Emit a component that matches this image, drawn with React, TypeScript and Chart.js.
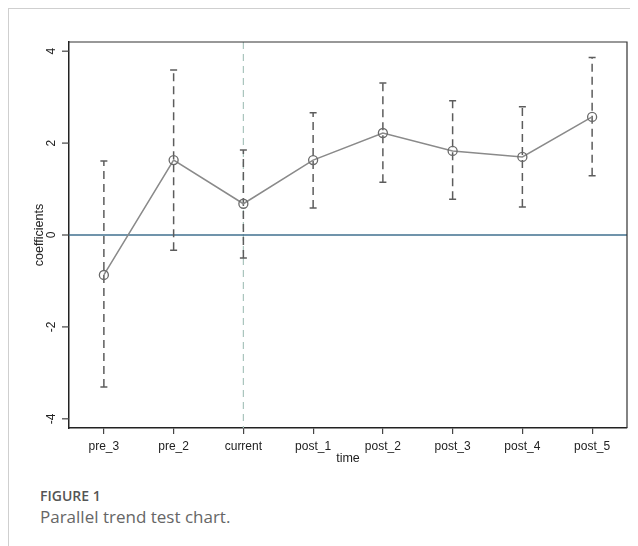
import React, { useEffect, useRef } from 'react';
import { Chart, registerables } from 'chart.js';

Chart.register(...registerables);

const categories = ['pre_3', 'pre_2', 'current', 'post_1', 'post_2', 'post_3', 'post_4', 'post_5'];
const coefficients = [-0.87, 1.63, 0.68, 1.63, 2.22, 1.83, 1.70, 2.57];
const upperCI = [1.61, 3.59, 1.85, 2.66, 3.31, 2.92, 2.79, 3.86];
const lowerCI = [-3.31, -0.33, -0.50, 0.59, 1.15, 0.78, 0.61, 1.29];
const yTickValues = [-4, -2, 0, 2, 4];
const referenceY = 0;
const eventCategory = 'current';
const xTitle = 'time';
const yTitle = 'coefficients';
const figureLabel = 'FIGURE 1';
const figureCaption = 'Parallel trend test chart.';

const FONT = '"Liberation Sans", Arial, Helvetica, sans-serif';

export default function App() {
  const ref = useRef<HTMLCanvasElement>(null);

  useEffect(() => {
    if (!ref.current) return;

    const axesPlugin = {
      id: 'axesPlugin',
      beforeDatasetsDraw(chart: any) {
        const { ctx, chartArea: a, scales } = chart;
        const x = scales.x;
        const y = scales.y;
        ctx.save();
        const xp = x.getPixelForValue(categories.indexOf(eventCategory));
        ctx.strokeStyle = '#a9c4bd';
        ctx.lineWidth = 1.2;
        ctx.setLineDash([7, 5]);
        ctx.beginPath();
        ctx.moveTo(xp, a.top);
        ctx.lineTo(xp, a.bottom);
        ctx.stroke();
        ctx.setLineDash([]);
        const yp = y.getPixelForValue(referenceY);
        ctx.strokeStyle = '#41708f';
        ctx.lineWidth = 1.5;
        ctx.beginPath();
        ctx.moveTo(a.left, yp);
        ctx.lineTo(a.right, yp);
        ctx.stroke();
        ctx.restore();
      },
      afterDraw(chart: any) {
        const { ctx, chartArea: a, scales } = chart;
        const y = scales.y;
        ctx.save();
        // frame top & right
        ctx.strokeStyle = '#333';
        ctx.lineWidth = 1.2;
        ctx.beginPath();
        ctx.moveTo(a.left, a.top);
        ctx.lineTo(a.right, a.top);
        ctx.lineTo(a.right, a.bottom);
        ctx.stroke();
        // y ticks and labels
        ctx.strokeStyle = '#444';
        ctx.lineWidth = 1.2;
        ctx.fillStyle = '#222';
        ctx.font = `12px ${FONT}`;
        ctx.textAlign = 'center';
        ctx.textBaseline = 'middle';
        yTickValues.forEach((v) => {
          const yp = y.getPixelForValue(v);
          ctx.beginPath();
          ctx.moveTo(a.left - 7, yp);
          ctx.lineTo(a.left, yp);
          ctx.stroke();
          ctx.save();
          ctx.translate(a.left - 17.5, yp);
          ctx.rotate(-Math.PI / 2);
          ctx.fillText(String(v), 0, 0);
          ctx.restore();
        });
        // y title
        ctx.font = `12.5px ${FONT}`;
        ctx.save();
        ctx.translate(a.left - 29, (a.top + a.bottom) / 2);
        ctx.rotate(-Math.PI / 2);
        ctx.fillText(yTitle, 0, 0);
        ctx.restore();
        // x title
        ctx.fillText(xTitle, (a.left + a.right) / 2, a.bottom + 31);
        ctx.restore();
      },
    };

    const errorBarSets = categories.map((c, i) => ({
      type: 'line' as const,
      data: [
        { x: c, y: lowerCI[i] },
        { x: c, y: upperCI[i] },
      ],
      borderColor: '#5c5c5c',
      borderWidth: 1.5,
      borderDash: [8, 5],
      pointStyle: 'line' as const,
      pointRadius: 3.5,
      pointBorderColor: '#5c5c5c',
      pointBorderWidth: 1.5,
      fill: false,
      order: 1,
    }));

    const chart = new Chart(ref.current, {
      type: 'line',
      data: {
        labels: categories,
        datasets: [
          {
            data: coefficients,
            borderColor: '#8a8a8a',
            borderWidth: 1.5,
            pointRadius: 4.5,
            pointBorderColor: '#6a6a6a',
            pointBackgroundColor: 'rgba(0,0,0,0)',
            pointBorderWidth: 1.3,
            fill: false,
            tension: 0,
            order: 0,
          },
          ...errorBarSets,
        ],
      } as any,
      options: {
        animation: false,
        responsive: false,
        events: [],
        layout: { padding: { top: 33, right: 11, left: 0, bottom: 0 } },
        plugins: { legend: { display: false }, tooltip: { enabled: false } },
        scales: {
          x: {
            type: 'category',
            offset: true,
            grid: {
              display: true,
              drawOnChartArea: false,
              drawTicks: true,
              tickLength: 6,
              color: '#444',
              lineWidth: 1.2,
              offset: false,
            },
            border: { display: true, color: '#222', width: 1.5 },
            ticks: {
              font: { family: FONT, size: 12 },
              color: '#222',
              padding: 5,
              maxRotation: 0,
              autoSkip: false,
            },
            afterFit: (s: any) => {
              s.height = 51;
            },
          },
          y: {
            type: 'linear',
            min: -4.2,
            max: 4.2,
            grid: { display: false },
            border: { display: true, color: '#222', width: 1.5 },
            ticks: { display: false },
            afterBuildTicks: (s: any) => {
              s.ticks = yTickValues.map((v) => ({ value: v }));
            },
            afterFit: (s: any) => {
              s.width = 60;
            },
          },
        },
      } as any,
      plugins: [axesPlugin],
    });

    return () => chart.destroy();
  }, []);

  return (
    <div
      style={{
        position: 'relative',
        width: 630,
        height: 538,
        borderTop: '1px solid #cfcfcf',
        borderLeft: '1px solid #cfcfcf',
        boxSizing: 'border-box',
        overflow: 'hidden',
      }}
    >
      <canvas
        ref={ref}
        width={629}
        height={470}
        style={{ position: 'absolute', left: 0, top: 0, width: 629, height: 470 }}
      />
      <div
        style={{
          position: 'absolute',
          left: 31,
          top: 477,
          fontFamily: '"Open Sans", sans-serif',
          fontWeight: 600,
          fontSize: 14,
          color: '#555',
          lineHeight: '19px',
          whiteSpace: 'nowrap',
        }}
      >
        {figureLabel}
      </div>
      <div
        style={{
          position: 'absolute',
          left: 31,
          top: 496,
          fontFamily: '"Open Sans", sans-serif',
          fontWeight: 400,
          fontSize: 17,
          color: '#666',
          lineHeight: '23px',
          whiteSpace: 'nowrap',
        }}
      >
        {figureCaption}
      </div>
    </div>
  );
}
